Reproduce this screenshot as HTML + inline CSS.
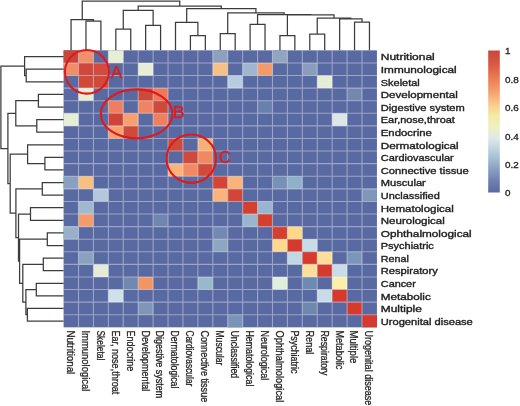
<!DOCTYPE html><html><head><meta charset="utf-8"><style>html,body{margin:0;padding:0;background:#fff;width:520px;height:406px;overflow:hidden}svg{display:block;will-change:transform}</style></head><body><svg width="520" height="406" viewBox="0 0 520 406">
<defs><linearGradient id="cb" x1="0" y1="0" x2="0" y2="1"><stop offset="0" stop-color="#c8463a"/><stop offset="0.1" stop-color="#db5a45"/><stop offset="0.21" stop-color="#ee8058"/><stop offset="0.31" stop-color="#f8a874"/><stop offset="0.4" stop-color="#f9d592"/><stop offset="0.46" stop-color="#f5e9a6"/><stop offset="0.54" stop-color="#eef2c0"/><stop offset="0.62" stop-color="#dde9e8"/><stop offset="0.72" stop-color="#b4cbdc"/><stop offset="0.82" stop-color="#8ea6c6"/><stop offset="0.91" stop-color="#7183b2"/><stop offset="1" stop-color="#5a689f"/></linearGradient></defs>
<rect x="63.6" y="50.35" width="313.32" height="276.98" fill="#5969a1"/>
<rect x="63.60" y="50.35" width="14.92" height="12.59" fill="#c9463a"/>
<rect x="78.52" y="50.35" width="14.92" height="12.59" fill="#f0906c"/>
<rect x="108.36" y="50.35" width="14.92" height="12.59" fill="#e6eed6"/>
<rect x="212.80" y="50.35" width="14.92" height="12.59" fill="#8ea0be"/>
<rect x="272.48" y="50.35" width="14.92" height="12.59" fill="#8fa5c0"/>
<rect x="63.60" y="62.94" width="14.92" height="12.59" fill="#f08c68"/>
<rect x="78.52" y="62.94" width="14.92" height="12.59" fill="#d0473b"/>
<rect x="93.44" y="62.94" width="14.92" height="12.59" fill="#d24b3d"/>
<rect x="138.20" y="62.94" width="14.92" height="12.59" fill="#e6eed6"/>
<rect x="212.80" y="62.94" width="14.92" height="12.59" fill="#f6c283"/>
<rect x="242.64" y="62.94" width="14.92" height="12.59" fill="#9fb5d0"/>
<rect x="257.56" y="62.94" width="14.92" height="12.59" fill="#f39a6b"/>
<rect x="302.32" y="62.94" width="14.92" height="12.59" fill="#8a9dbf"/>
<rect x="78.52" y="75.53" width="14.92" height="12.59" fill="#d04a3c"/>
<rect x="93.44" y="75.53" width="14.92" height="12.59" fill="#d04a3c"/>
<rect x="227.72" y="75.53" width="14.92" height="12.59" fill="#b8cce0"/>
<rect x="317.24" y="75.53" width="14.92" height="12.59" fill="#e5edd5"/>
<rect x="78.52" y="88.12" width="14.92" height="12.59" fill="#e6eed6"/>
<rect x="138.20" y="88.12" width="14.92" height="12.59" fill="#cc4a3c"/>
<rect x="153.12" y="88.12" width="14.92" height="12.59" fill="#ec7a5a"/>
<rect x="347.08" y="88.12" width="14.92" height="12.59" fill="#7487b0"/>
<rect x="108.36" y="100.71" width="14.92" height="12.59" fill="#ee7e5e"/>
<rect x="138.20" y="100.71" width="14.92" height="12.59" fill="#f08462"/>
<rect x="153.12" y="100.71" width="14.92" height="12.59" fill="#d04a3c"/>
<rect x="257.56" y="100.71" width="14.92" height="12.59" fill="#6b80ae"/>
<rect x="63.60" y="113.30" width="14.92" height="12.59" fill="#e6eed6"/>
<rect x="108.36" y="113.30" width="14.92" height="12.59" fill="#cf4438"/>
<rect x="123.28" y="113.30" width="14.92" height="12.59" fill="#f7a070"/>
<rect x="153.12" y="113.30" width="14.92" height="12.59" fill="#ee8060"/>
<rect x="332.16" y="113.30" width="14.92" height="12.59" fill="#dbe6e6"/>
<rect x="108.36" y="125.89" width="14.92" height="12.59" fill="#f8a070"/>
<rect x="123.28" y="125.89" width="14.92" height="12.59" fill="#d04a3c"/>
<rect x="168.04" y="138.48" width="14.92" height="12.59" fill="#d04a3c"/>
<rect x="197.88" y="138.48" width="14.92" height="12.59" fill="#f6b07a"/>
<rect x="182.96" y="151.07" width="14.92" height="12.59" fill="#d04a3c"/>
<rect x="197.88" y="151.07" width="14.92" height="12.59" fill="#f08860"/>
<rect x="168.04" y="163.66" width="14.92" height="12.59" fill="#f8b47a"/>
<rect x="182.96" y="163.66" width="14.92" height="12.59" fill="#f08a62"/>
<rect x="197.88" y="163.66" width="14.92" height="12.59" fill="#d04a3c"/>
<rect x="63.60" y="176.25" width="14.92" height="12.59" fill="#8aa0c0"/>
<rect x="78.52" y="176.25" width="14.92" height="12.59" fill="#f6c080"/>
<rect x="212.80" y="176.25" width="14.92" height="12.59" fill="#d24538"/>
<rect x="227.72" y="176.25" width="14.92" height="12.59" fill="#f8b47a"/>
<rect x="272.48" y="176.25" width="14.92" height="12.59" fill="#7890b5"/>
<rect x="287.40" y="176.25" width="14.92" height="12.59" fill="#8fb0c8"/>
<rect x="93.44" y="188.84" width="14.92" height="12.59" fill="#b3c8dc"/>
<rect x="212.80" y="188.84" width="14.92" height="12.59" fill="#f8b47a"/>
<rect x="227.72" y="188.84" width="14.92" height="12.59" fill="#d24538"/>
<rect x="362.00" y="188.84" width="14.92" height="12.59" fill="#7f98ba"/>
<rect x="78.52" y="201.43" width="14.92" height="12.59" fill="#a0b8d0"/>
<rect x="242.64" y="201.43" width="14.92" height="12.59" fill="#d4402f"/>
<rect x="257.56" y="201.43" width="14.92" height="12.59" fill="#9ab5cf"/>
<rect x="78.52" y="214.02" width="14.92" height="12.59" fill="#f39b6b"/>
<rect x="153.12" y="214.02" width="14.92" height="12.59" fill="#7085b0"/>
<rect x="242.64" y="214.02" width="14.92" height="12.59" fill="#9ab5cf"/>
<rect x="257.56" y="214.02" width="14.92" height="12.59" fill="#d4402f"/>
<rect x="63.60" y="226.61" width="14.92" height="12.59" fill="#9ab0c8"/>
<rect x="212.80" y="226.61" width="14.92" height="12.59" fill="#7388b2"/>
<rect x="272.48" y="226.61" width="14.92" height="12.59" fill="#d4402f"/>
<rect x="287.40" y="226.61" width="14.92" height="12.59" fill="#fcd888"/>
<rect x="212.80" y="239.20" width="14.92" height="12.59" fill="#8ea6c2"/>
<rect x="272.48" y="239.20" width="14.92" height="12.59" fill="#fcd890"/>
<rect x="287.40" y="239.20" width="14.92" height="12.59" fill="#d63a2e"/>
<rect x="302.32" y="239.20" width="14.92" height="12.59" fill="#c8dce8"/>
<rect x="78.52" y="251.79" width="14.92" height="12.59" fill="#8aa2bf"/>
<rect x="287.40" y="251.79" width="14.92" height="12.59" fill="#c0d8e4"/>
<rect x="302.32" y="251.79" width="14.92" height="12.59" fill="#d63a2e"/>
<rect x="317.24" y="251.79" width="14.92" height="12.59" fill="#fce09a"/>
<rect x="347.08" y="251.79" width="14.92" height="12.59" fill="#7c95ba"/>
<rect x="93.44" y="264.38" width="14.92" height="12.59" fill="#e3ecd6"/>
<rect x="302.32" y="264.38" width="14.92" height="12.59" fill="#fce09a"/>
<rect x="317.24" y="264.38" width="14.92" height="12.59" fill="#d63a2e"/>
<rect x="332.16" y="264.38" width="14.92" height="12.59" fill="#c8dde8"/>
<rect x="123.28" y="276.97" width="14.92" height="12.59" fill="#7188b0"/>
<rect x="138.20" y="276.97" width="14.92" height="12.59" fill="#f39560"/>
<rect x="197.88" y="276.97" width="14.92" height="12.59" fill="#9ab8cc"/>
<rect x="272.48" y="276.97" width="14.92" height="12.59" fill="#e2eedc"/>
<rect x="302.32" y="276.97" width="14.92" height="12.59" fill="#6f8ab0"/>
<rect x="332.16" y="276.97" width="14.92" height="12.59" fill="#fbf0a8"/>
<rect x="108.36" y="289.56" width="14.92" height="12.59" fill="#d0e0e8"/>
<rect x="317.24" y="289.56" width="14.92" height="12.59" fill="#c8dce8"/>
<rect x="332.16" y="289.56" width="14.92" height="12.59" fill="#d63a2e"/>
<rect x="138.20" y="302.15" width="14.92" height="12.59" fill="#7f96b8"/>
<rect x="302.32" y="302.15" width="14.92" height="12.59" fill="#6f88ae"/>
<rect x="347.08" y="302.15" width="14.92" height="12.59" fill="#d63a2e"/>
<rect x="227.72" y="314.74" width="14.92" height="12.59" fill="#7b93b8"/>
<rect x="362.00" y="314.74" width="14.92" height="12.59" fill="#d63a2e"/>
<path d="M78.52 50.35V327.33M93.44 50.35V327.33M108.36 50.35V327.33M123.28 50.35V327.33M138.20 50.35V327.33M153.12 50.35V327.33M168.04 50.35V327.33M182.96 50.35V327.33M197.88 50.35V327.33M212.80 50.35V327.33M227.72 50.35V327.33M242.64 50.35V327.33M257.56 50.35V327.33M272.48 50.35V327.33M287.40 50.35V327.33M302.32 50.35V327.33M317.24 50.35V327.33M332.16 50.35V327.33M347.08 50.35V327.33M362.00 50.35V327.33M63.6 62.94H376.92M63.6 75.53H376.92M63.6 88.12H376.92M63.6 100.71H376.92M63.6 113.30H376.92M63.6 125.89H376.92M63.6 138.48H376.92M63.6 151.07H376.92M63.6 163.66H376.92M63.6 176.25H376.92M63.6 188.84H376.92M63.6 201.43H376.92M63.6 214.02H376.92M63.6 226.61H376.92M63.6 239.20H376.92M63.6 251.79H376.92M63.6 264.38H376.92M63.6 276.97H376.92M63.6 289.56H376.92M63.6 302.15H376.92M63.6 314.74H376.92" stroke="#ffffff" stroke-opacity="0.4" stroke-width="1.1" fill="none"/>
<path d="M85.98 50.35V21.20H100.90V50.35M71.06 50.35V19.50H93.44V21.20M115.82 50.35V29.20H130.74V50.35M145.66 50.35V25.40H160.58V50.35M123.28 29.20V10.30H153.12V25.40M190.42 50.35V35.70H205.34V50.35M175.50 50.35V22.30H197.88V35.70M220.26 50.35V33.50H235.18V50.35M250.10 50.35V24.30H265.02V50.35M279.94 50.35V35.70H294.86V50.35M309.78 50.35V34.20H324.70V50.35M354.54 50.35V22.00H369.46V50.35M339.62 50.35V18.80H362.00V22.00M317.24 34.20V18.20H350.81V18.80M287.40 35.70V14.90H334.02V18.20M257.56 24.30V14.60H310.71V14.90M227.72 33.50V12.90H284.14V14.60M186.69 22.30V8.50H255.93V12.90M138.20 10.30V6.20H221.31V8.50M82.25 19.50V1.00H179.75V6.20M63.60 69.23H26.20V81.83H63.60M63.60 56.65H24.60V75.53H26.20M63.60 94.41H38.40V107.00H63.60M63.60 119.59H36.80V132.19H63.60M38.40 100.71H15.80V125.89H36.80M63.60 157.37H44.90V169.96H63.60M63.60 144.78H27.60V163.66H44.90M63.60 182.54H42.30V195.13H63.60M63.60 207.72H30.50V220.31H63.60M63.60 232.91H47.30V245.50H63.60M63.60 258.08H43.30V270.68H63.60M63.60 283.26H36.30V295.86H63.60M63.60 308.44H27.40V321.04H63.60M36.30 289.56H25.90V314.74H27.40M43.30 264.38H22.80V302.15H25.90M47.30 239.20H19.60V283.26H22.80M30.50 214.02H18.50V261.23H19.60M42.30 188.84H15.90V237.63H18.50M27.60 154.22H10.20V213.23H15.90M15.80 113.30H7.90V183.73H10.20M24.60 66.09H0.90V148.51H7.90" stroke="#3c3c3c" stroke-width="1.25" fill="none" stroke-linejoin="miter" stroke-linecap="butt"/>
<g fill="none" stroke="#e01a1c" stroke-width="2.1"><ellipse cx="86.9" cy="71.8" rx="22.0" ry="21.8"/><ellipse cx="136.6" cy="113.9" rx="35.8" ry="24.5"/><ellipse cx="191.3" cy="158.7" rx="24.7" ry="24.2"/></g>
<g fill="#e01a1c" stroke="#e01a1c" stroke-width="0.35" font-family="Liberation Sans, sans-serif" font-size="16.5"><text transform="translate(110.8,78.2) scale(1.04,1)">A</text><text transform="translate(172.8,118.2) scale(1.08,1)">B</text><text transform="translate(218.7,162.6) scale(1.0,1)">C</text></g>
<g fill="#222" stroke="#222" stroke-width="0.35" font-family="Liberation Sans, sans-serif" font-size="8.9">
<text x="380.8" y="60.45" textLength="53.95167004173483" lengthAdjust="spacingAndGlyphs">Nutritional</text>
<text x="380.8" y="73.03" textLength="75.93617726194508" lengthAdjust="spacingAndGlyphs">Immunological</text>
<text x="380.8" y="85.62" textLength="38.92308744298968" lengthAdjust="spacingAndGlyphs">Skeletal</text>
<text x="380.8" y="98.21" textLength="76.93569085942316" lengthAdjust="spacingAndGlyphs">Developmental</text>
<text x="380.8" y="110.80" textLength="83.97430795355841" lengthAdjust="spacingAndGlyphs">Digestive system</text>
<text x="380.8" y="123.39" textLength="74.01216427247884" lengthAdjust="spacingAndGlyphs">Ear,nose,throat</text>
<text x="380.8" y="135.99" textLength="50.9972859606454" lengthAdjust="spacingAndGlyphs">Endocrine</text>
<text x="380.8" y="148.58" textLength="77.93521736460224" lengthAdjust="spacingAndGlyphs">Dermatological</text>
<text x="380.8" y="161.17" textLength="72.96546078313202" lengthAdjust="spacingAndGlyphs">Cardiovascular</text>
<text x="380.8" y="173.76" textLength="87.90993801929304" lengthAdjust="spacingAndGlyphs">Connective tissue</text>
<text x="380.8" y="186.34" textLength="45.0371899811925" lengthAdjust="spacingAndGlyphs">Muscular</text>
<text x="380.8" y="198.94" textLength="59.01722500768309" lengthAdjust="spacingAndGlyphs">Unclassified</text>
<text x="380.8" y="211.53" textLength="72.93771941968498" lengthAdjust="spacingAndGlyphs">Hematological</text>
<text x="380.8" y="224.12" textLength="63.99623888112604" lengthAdjust="spacingAndGlyphs">Neurological</text>
<text x="380.8" y="236.71" textLength="90.89753264939168" lengthAdjust="spacingAndGlyphs">Ophthalmological</text>
<text x="380.8" y="249.30" textLength="53.0516372445642" lengthAdjust="spacingAndGlyphs">Psychiatric</text>
<text x="380.8" y="261.88" textLength="28.00465995446787" lengthAdjust="spacingAndGlyphs">Renal</text>
<text x="380.8" y="274.48" textLength="56.97535607746424" lengthAdjust="spacingAndGlyphs">Respiratory</text>
<text x="380.8" y="287.06" textLength="34.991470838339154" lengthAdjust="spacingAndGlyphs">Cancer</text>
<text x="380.8" y="299.66" textLength="50.01860235030955" lengthAdjust="spacingAndGlyphs">Metabolic</text>
<text x="380.8" y="312.25" textLength="41.06703996222307" lengthAdjust="spacingAndGlyphs">Multiple</text>
<text x="380.8" y="324.84" textLength="92.01421579719126" lengthAdjust="spacingAndGlyphs">Urogenital disease</text>
</g>
<g fill="#222" stroke="#222" stroke-width="0.28" font-family="Liberation Sans, sans-serif" font-size="10.4">
<text transform="translate(66.96,330.4) rotate(90)" textLength="43.89372959545271" lengthAdjust="spacingAndGlyphs">Nutritional</text>
<text transform="translate(81.88,330.4) rotate(90)" textLength="60.92971601660031" lengthAdjust="spacingAndGlyphs">Immunological</text>
<text transform="translate(96.80,330.4) rotate(90)" textLength="29.919908600016353" lengthAdjust="spacingAndGlyphs">Skeletal</text>
<text transform="translate(111.72,330.4) rotate(90)" textLength="63.91378294109313" lengthAdjust="spacingAndGlyphs">Ear, nose,throat</text>
<text transform="translate(126.64,330.4) rotate(90)" textLength="40.944936716774194" lengthAdjust="spacingAndGlyphs">Endocrine</text>
<text transform="translate(141.56,330.4) rotate(90)" textLength="60.91448337601309" lengthAdjust="spacingAndGlyphs">Developmental</text>
<text transform="translate(156.48,330.4) rotate(90)" textLength="67.94060426089072" lengthAdjust="spacingAndGlyphs">Digestive system</text>
<text transform="translate(171.40,330.4) rotate(90)" textLength="57.91525881342962" lengthAdjust="spacingAndGlyphs">Dermatological</text>
<text transform="translate(186.32,330.4) rotate(90)" textLength="55.94924773668165" lengthAdjust="spacingAndGlyphs">Cardiovascular</text>
<text transform="translate(201.24,330.4) rotate(90)" textLength="71.91220849210151" lengthAdjust="spacingAndGlyphs">Connective tissue</text>
<text transform="translate(216.16,330.4) rotate(90)" textLength="34.99856359667341" lengthAdjust="spacingAndGlyphs">Muscular</text>
<text transform="translate(231.08,330.4) rotate(90)" textLength="47.92916035339668" lengthAdjust="spacingAndGlyphs">Unclassified</text>
<text transform="translate(246.00,330.4) rotate(90)" textLength="55.94924773668164" lengthAdjust="spacingAndGlyphs">Hematological</text>
<text transform="translate(260.92,330.4) rotate(90)" textLength="49.91927590064229" lengthAdjust="spacingAndGlyphs">Neurological</text>
<text transform="translate(275.84,330.4) rotate(90)" textLength="71.91220849210151" lengthAdjust="spacingAndGlyphs">Ophthalmological</text>
<text transform="translate(290.76,330.4) rotate(90)" textLength="42.92083681690937" lengthAdjust="spacingAndGlyphs">Psychiatric</text>
<text transform="translate(305.68,330.4) rotate(90)" textLength="23.992357866994997" lengthAdjust="spacingAndGlyphs">Renal</text>
<text transform="translate(320.60,330.4) rotate(90)" textLength="44.97192391378873" lengthAdjust="spacingAndGlyphs">Respiratory</text>
<text transform="translate(335.52,330.4) rotate(90)" textLength="38.978638706522965" lengthAdjust="spacingAndGlyphs">Metabolic</text>
<text transform="translate(350.44,330.4) rotate(90)" textLength="33.0022813887523" lengthAdjust="spacingAndGlyphs">Multiple</text>
<text transform="translate(365.36,330.4) rotate(90)" textLength="74.97736600652938" lengthAdjust="spacingAndGlyphs">Urogenital disease</text>
</g>
<rect x="488.2" y="50.5" width="11.6" height="142" fill="url(#cb)"/>
<g fill="#222" stroke="#222" stroke-width="0.3" font-family="Liberation Sans, sans-serif" font-size="8.9">
<text transform="translate(505,54.3) scale(1.11,1)">1</text>
<text transform="translate(505,82.7) scale(1.11,1)">0.8</text>
<text transform="translate(505,111.1) scale(1.11,1)">0.6</text>
<text transform="translate(505,139.5) scale(1.11,1)">0.4</text>
<text transform="translate(505,167.9) scale(1.11,1)">0.2</text>
<text transform="translate(505,196.3) scale(1.11,1)">0</text>
</g>
</svg></body></html>
